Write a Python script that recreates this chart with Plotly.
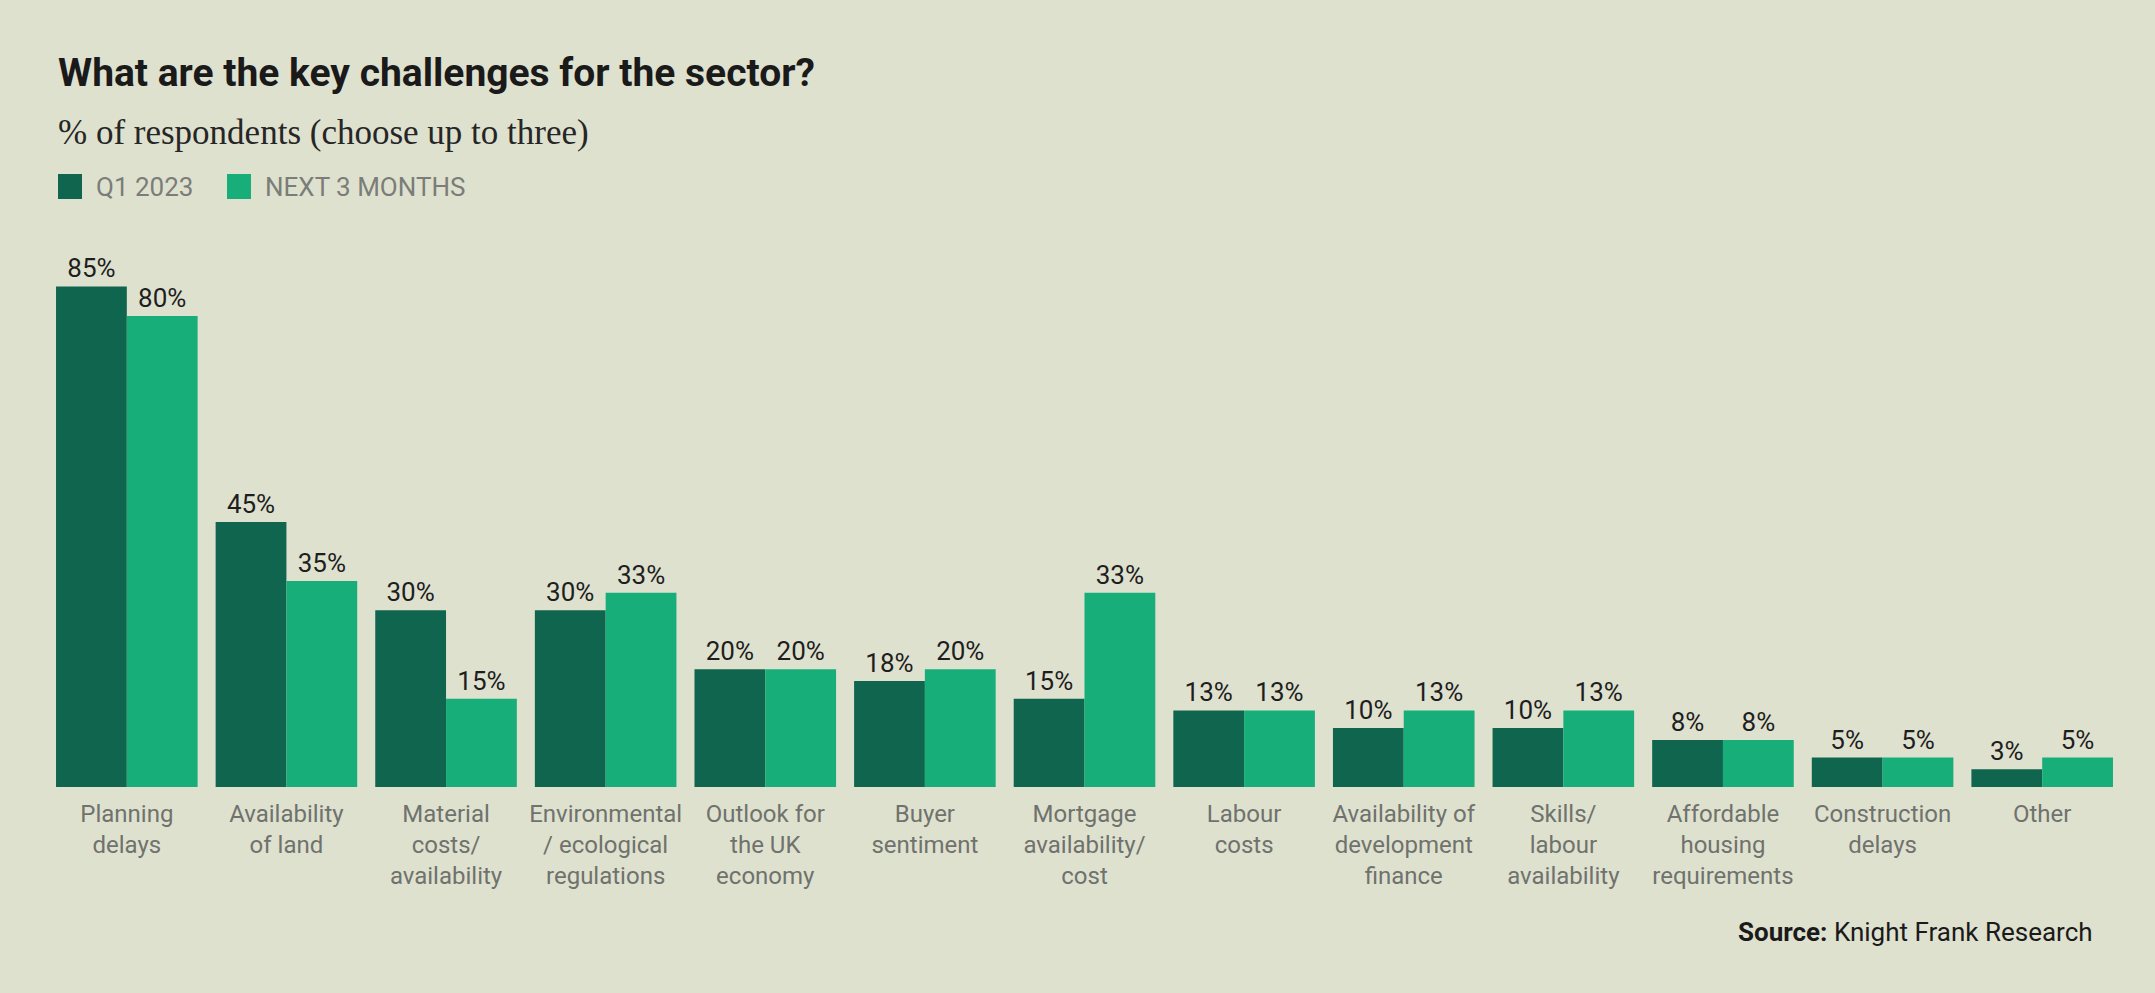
import plotly.graph_objects as go

categories = [
    "Planning<br>delays",
    "Availability<br>of land",
    "Material<br>costs/<br>availability",
    "Environmental<br>/ ecological<br>regulations",
    "Outlook for<br>the UK<br>economy",
    "Buyer<br>sentiment",
    "Mortgage<br>availability/<br>cost",
    "Labour<br>costs",
    "Availability of<br>development<br>finance",
    "Skills/<br>labour<br>availability",
    "Affordable<br>housing<br>requirements",
    "Construction<br>delays",
    "Other",
]
q1_2023 = [85, 45, 30, 30, 20, 18, 15, 13, 10, 10, 8, 5, 3]
next_3_months = [80, 35, 15, 33, 20, 20, 33, 13, 13, 13, 8, 5, 5]
series_names = ["Q1 2023", "NEXT 3 MONTHS"]

DARK = "#10654f"
LIGHT = "#17ae79"
BG = "#dfe1cf"
SANS = "Roboto, 'Liberation Sans', Arial, sans-serif"
SERIF = "'Liberation Serif', 'DejaVu Serif', serif"

fig = go.Figure()
for name, vals, col in [(series_names[0], q1_2023, DARK), (series_names[1], next_3_months, LIGHT)]:
    fig.add_trace(go.Bar(
        x=categories, y=vals, name=name, marker=dict(color=col, line=dict(width=0)),
        text=[f"{v}%" for v in vals], textposition="outside", cliponaxis=False,
        constraintext="none",
        textfont=dict(family=SANS, size=26, color="#1e1e1e"),
        showlegend=False,
    ))

annotations = [
    dict(text="<b>What are the key challenges for the sector?</b>", x=0, y=1, xref="paper", yref="paper",
         xanchor="left", yanchor="middle", xshift=9, yshift=184, showarrow=False,
         font=dict(family=SANS, size=39, color="#1a1a1a")),
    dict(text="% of respondents (choose up to three)", x=0, y=1, xref="paper", yref="paper",
         xanchor="left", yanchor="middle", xshift=9, yshift=125, showarrow=False,
         font=dict(family=SERIF, size=35, color="#262626")),
    dict(text="<b>Source:</b> Knight Frank Research", x=1, y=0, xref="paper", yref="paper",
         xanchor="right", yanchor="middle", xshift=-27, yshift=-145, showarrow=False,
         font=dict(family=SANS, size=26, color="#1a1a1a")),
]
legend_pos = [(11, 49), (180, 218)]
shapes = []
for (sq, tx), name, col in zip(legend_pos, series_names, [DARK, LIGHT]):
    shapes.append(dict(type="rect", xref="paper", yref="paper", xsizemode="pixel", ysizemode="pixel",
                       xanchor=0, yanchor=1, x0=sq, x1=sq + 24, y0=58, y1=83,
                       fillcolor=col, line=dict(width=0)))
    annotations.append(dict(text=name, x=0, y=1, xref="paper", yref="paper", xanchor="left",
                            yanchor="middle", xshift=tx - 2, yshift=70, showarrow=False,
                            font=dict(family=SANS, size=26, color="#7a7d78")))

fig.update_layout(
    width=2155, height=993,
    margin=dict(l=47, r=33, t=257, b=206),
    paper_bgcolor=BG, plot_bgcolor=BG,
    barmode="group", bargap=0.113, bargroupgap=0,
    annotations=annotations, shapes=shapes,
    xaxis=dict(showline=False, showgrid=False, ticks="", tickangle=0, ticklabelstandoff=10,
               tickfont=dict(family=SANS, size=24, color="#6f726d")),
    yaxis=dict(range=[0, 90], visible=False, showgrid=False, zeroline=False),
    showlegend=False,
)

fig.write_html("out.html", config={"displayModeBar": False},
               post_script="document.body.style.margin='0';")
